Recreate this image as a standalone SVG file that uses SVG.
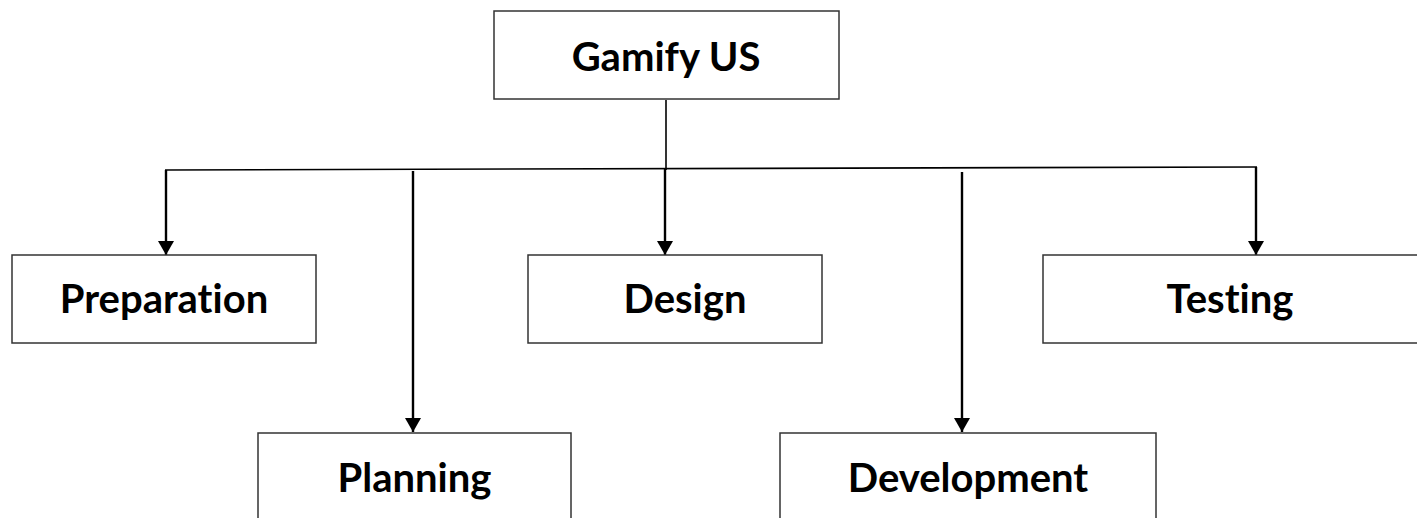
<svg xmlns="http://www.w3.org/2000/svg" width="1417" height="518" viewBox="0 0 1417 518">
  <style>
    .box { fill: #ffffff; stroke: #333333; stroke-width: 1.5; }
    .label { font-family: "Lato", "Open Sans", "Liberation Sans", sans-serif; font-weight: bold; font-size: 40px; fill: #000000; text-anchor: middle; font-variant-ligatures: none; }
    .wire { fill: none; stroke: #000000; stroke-width: 1.6; }
    .drop { fill: none; stroke: #000000; stroke-width: 2.4; }
  </style>
  <defs>
    <marker id="head" viewBox="0 0 14 16" refX="14" refY="8" markerWidth="14" markerHeight="16" markerUnits="userSpaceOnUse" orient="auto">
      <path d="M0,0 L14,8 L0,16 Z" fill="#000000"/>
    </marker>
  </defs>

  <rect width="1417" height="518" fill="#ffffff"/>

  <g id="connectors">
    <!-- trunk from root down to the bus -->
    <line class="wire" x1="666" y1="100" x2="666" y2="170"/>
    <!-- horizontal bus -->
    <line class="wire" x1="165" y1="170" x2="1257" y2="167"/>
    <!-- drops to each phase -->
    <line class="drop" x1="166" y1="170" x2="166" y2="255" marker-end="url(#head)"/>
    <line class="drop" x1="413" y1="171" x2="413" y2="432" marker-end="url(#head)"/>
    <line class="drop" x1="665" y1="169" x2="665" y2="255" marker-end="url(#head)"/>
    <line class="drop" x1="962" y1="172" x2="962" y2="432" marker-end="url(#head)"/>
    <line class="drop" x1="1256" y1="167" x2="1256" y2="255" marker-end="url(#head)"/>
  </g>

  <g id="node-gamify">
    <rect class="box" x="494" y="11" width="345" height="88"/>
    <text class="label" x="666" y="71">Gamify US</text>
  </g>

  <g id="node-preparation">
    <rect class="box" x="12" y="255" width="304" height="88"/>
    <text class="label" x="164" y="313">Preparation</text>
  </g>

  <g id="node-design">
    <rect class="box" x="528" y="255" width="294" height="88"/>
    <text class="label" x="685" y="313">Design</text>
  </g>

  <g id="node-testing">
    <rect class="box" x="1043" y="255" width="380" height="88"/>
    <text class="label" x="1230" y="313">Testing</text>
  </g>

  <g id="node-planning">
    <rect class="box" x="258" y="433" width="313" height="100"/>
    <text class="label" x="414.5" y="492">Planning</text>
  </g>

  <g id="node-development">
    <rect class="box" x="780" y="433" width="376" height="100"/>
    <text class="label" x="968" y="492">Development</text>
  </g>
</svg>
